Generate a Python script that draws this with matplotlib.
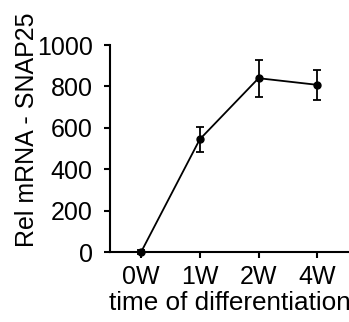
import numpy as np
import matplotlib
matplotlib.use('Agg')
import matplotlib.pyplot as plt

# 데이터
labels = ['0W', '1W', '2W', '4W']
values = [0, 545, 840, 808]
errors = [8, 60, 90, 72]

plt.rcParams['font.family'] = ['Liberation Sans', 'DejaVu Sans']

fig = plt.figure(figsize=(3.49, 3.22), dpi=100)
ax = fig.add_axes([0.315, 0.217, 0.685, 0.643])

x = np.arange(len(labels))
ax.errorbar(x, values, yerr=errors, color='black', linewidth=1.3,
            marker='o', markersize=5, capsize=3.2, elinewidth=1.3, capthick=1.3,
            clip_on=False, zorder=3)

ax.set_xlim(-0.53, 3.54)
ax.set_ylim(0, 1000)
ax.set_yticks([0, 200, 400, 600, 800, 1000])
ax.set_xticks(x)
ax.set_xticklabels(labels)

for side in ['top', 'right']:
    ax.spines[side].set_visible(False)
for side in ['left', 'bottom']:
    ax.spines[side].set_linewidth(1.5)
ax.tick_params(width=1.5, length=4.5, labelsize=18)
ax.tick_params(axis='y', pad=8)
ax.tick_params(axis='x', pad=5)

ax.set_ylabel('Rel mRNA - SNAP25', fontsize=18, labelpad=-2)
ax.yaxis.label.set_y(0.59)
ax.set_xlabel('time of differentiation', fontsize=18.8, labelpad=1)

fig.savefig('out.png', dpi=100)
